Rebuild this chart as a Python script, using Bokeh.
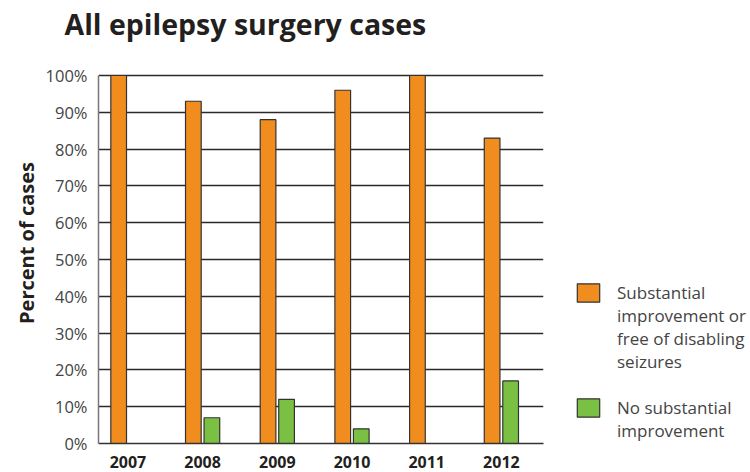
import numpy as np
from bokeh.plotting import figure
from bokeh.models import ColumnDataSource, Range1d, FixedTicker, PrintfTickFormatter, Legend, LegendItem
from bokeh.transform import dodge
from bokeh.embed import file_html
from bokeh.resources import INLINE

years = ["2007", "2008", "2009", "2010", "2011", "2012"]
improved = [100, 93, 88, 96, 100, 83]
not_improved = [0, 7, 12, 4, 0, 17]
y_ticks = [0, 10, 20, 30, 40, 50, 60, 70, 80, 90, 100]
label_improved = ["Substantial", "improvement or", "free of disabling", "seizures"]
label_not = ["No substantial", "improvement"]

idx = list(range(len(years)))
src = ColumnDataSource(dict(x=idx, improved=improved, not_improved=not_improved))

FONT = "Open Sans"
# frame extends a little above 100% so the title can sit higher; axis line is bounded to 0-100
p = figure(frame_width=445, frame_height=401, output_backend="svg", toolbar_location=None,
           x_range=Range1d(-0.394, 5.564), y_range=Range1d(0, 108.97),
           min_border_left=98, min_border_right=207, min_border_top=42, min_border_bottom=28)
p.outline_line_color = None
p.background_fill_color = "white"

p.title.text = "All epilepsy surgery cases"
p.title.text_font = FONT
p.title.text_font_size = "28.5px"
p.title.text_font_style = "bold"
p.title.text_color = "#231f20"
p.title.offset = -34
p.title.vertical_align = "bottom"
p.title.standoff = 0

r1 = p.vbar(x=dodge("x", -0.124, range=p.x_range), top="improved", width=0.21, source=src,
            fill_color="#F18D1E", line_color="#333333", line_width=1.2)
r2 = p.vbar(x=dodge("x", 0.124, range=p.x_range), top="not_improved", width=0.21, source=src,
            fill_color="#7AC143", line_color="#333333", line_width=1.2)
blank = p.vbar(x=[], top=[], width=0.2, fill_alpha=0, line_alpha=0)

p.xgrid.grid_line_color = None
p.ygrid.ticker = FixedTicker(ticks=y_ticks)
p.ygrid.grid_line_color = "#2a2a2a"
p.ygrid.grid_line_width = 1.4
p.ygrid.level = "underlay"

p.yaxis.ticker = FixedTicker(ticks=y_ticks)
p.yaxis.bounds = (y_ticks[0], y_ticks[-1])
p.yaxis.formatter = PrintfTickFormatter(format="%d%%")
p.yaxis.axis_line_color = "#777777"
p.yaxis.axis_line_width = 1.5
p.yaxis.major_tick_line_color = None
p.yaxis.minor_tick_line_color = None
p.yaxis.major_label_text_font = FONT
p.yaxis.major_label_text_font_size = "16.5px"
p.yaxis.major_label_text_color = "#444444"
p.yaxis.major_label_standoff = 5
p.yaxis.axis_label = "Percent of cases"
p.yaxis.axis_label_text_font = FONT
p.yaxis.axis_label_text_font_size = "20px"
p.yaxis.axis_label_text_font_style = "bold"
p.yaxis.axis_label_text_color = "#231f20"
p.yaxis.axis_label_standoff = 3

p.xaxis.ticker = FixedTicker(ticks=idx)
p.xaxis.major_label_overrides = {i: y for i, y in zip(idx, years)}
p.xaxis.axis_line_color = "#333333"
p.xaxis.axis_line_width = 1.4
p.xaxis.major_tick_line_color = None
p.xaxis.minor_tick_line_color = None
p.xaxis.major_label_text_font = FONT
p.xaxis.major_label_text_font_size = "16px"
p.xaxis.major_label_text_font_style = "bold"
p.xaxis.major_label_text_color = "#231f20"
p.xaxis.major_label_standoff = 6

items = [LegendItem(label=t, renderers=[r1 if i == 0 else blank]) for i, t in enumerate(label_improved)]
items.append(LegendItem(label=" ", renderers=[blank]))
items += [LegendItem(label=t, renderers=[r2 if i == 0 else blank]) for i, t in enumerate(label_not)]
legend = Legend(items=items, location=(31, 1), border_line_color=None, background_fill_alpha=0,
                padding=0, margin=0, spacing=0, glyph_width=28, glyph_height=23, label_height=23,
                label_text_font=FONT, label_text_font_size="17px", label_text_color="#444444",
                label_standoff=15, inactive_fill_alpha=0)
p.add_layout(legend, "right")

open("out.html", "w").write(file_html(p, INLINE))
